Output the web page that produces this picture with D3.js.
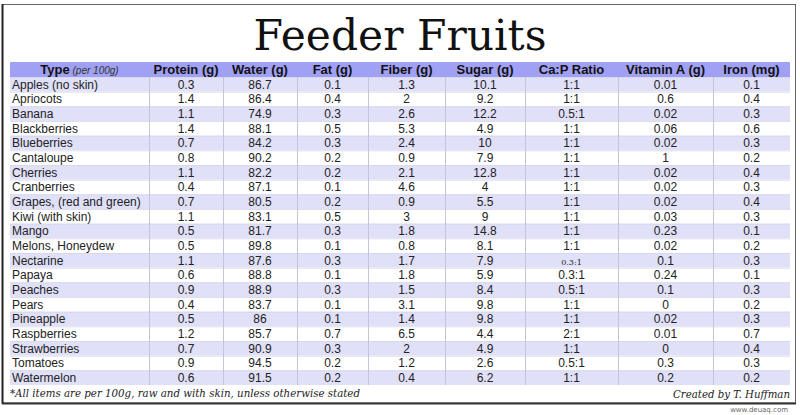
<!DOCTYPE html>
<html><head><meta charset="utf-8">
<script src="https://cdn.jsdelivr.net/npm/d3@7"></script>
<style>body{margin:0;background:#fff}svg{display:block}</style>
</head><body><div id="c"></div>
<script>
const title = "Feeder Fruits";
const headers = ["Type", "Protein (g)", "Water (g)", "Fat (g)", "Fiber (g)", "Sugar (g)", "Ca:P Ratio", "Vitamin A (g)", "Iron (mg)"];
const fruits = ["Apples (no skin)","Apriocots","Banana","Blackberries","Blueberries","Cantaloupe","Cherries","Cranberries","Grapes, (red and green)","Kiwi (with skin)","Mango","Melons, Honeydew","Nectarine","Papaya","Peaches","Pears","Pineapple","Raspberries","Strawberries","Tomatoes","Watermelon"];
const protein = [0.3,1.4,1.1,1.4,0.7,0.8,1.1,0.4,0.7,1.1,0.5,0.5,1.1,0.6,0.9,0.4,0.5,1.2,0.7,0.9,0.6];
const water = [86.7,86.4,74.9,88.1,84.2,90.2,82.2,87.1,80.5,83.1,81.7,89.8,87.6,88.8,88.9,83.7,86,85.7,90.9,94.5,91.5];
const fat = [0.1,0.4,0.3,0.5,0.3,0.2,0.2,0.1,0.2,0.5,0.3,0.1,0.3,0.1,0.3,0.1,0.1,0.7,0.3,0.2,0.2];
const fiber = [1.3,2,2.6,5.3,2.4,0.9,2.1,4.6,0.9,3,1.8,0.8,1.7,1.8,1.5,3.1,1.4,6.5,2,1.2,0.4];
const sugar = [10.1,9.2,12.2,4.9,10,7.9,12.8,4,5.5,9,14.8,8.1,7.9,5.9,8.4,9.8,9.8,4.4,4.9,2.6,6.2];
const caP = ["1:1","1:1","0.5:1","1:1","1:1","1:1","1:1","1:1","1:1","1:1","1:1","1:1","0.3:1","0.3:1","0.5:1","1:1","1:1","2:1","1:1","0.5:1","1:1"];
const vitaminA = [0.01,0.6,0.02,0.06,0.02,1,0.02,0.02,0.02,0.03,0.23,0.02,0.1,0.24,0.1,0,0.02,0.01,0,0.3,0.2];
const iron = [0.1,0.4,0.3,0.6,0.3,0.2,0.4,0.3,0.4,0.3,0.1,0.2,0.3,0.1,0.3,0.2,0.3,0.7,0.4,0.3,0.2];
const footnote = "*All items are per 100g, raw and with skin, unless otherwise stated";
const credit = "Created by T. Huffman";
const watermark = "www.deuaq.com";

const W = 800, H = 415;
const colEdges = [10,149,223,297,368,445,525,618,713,790];
const headerTop = 62, headerH = 15, rowsTop = 77, rowsBottom = 385;

const svg = d3.select("#c").append("svg").attr("width", W).attr("height", H);
svg.append("rect").attr("width", W).attr("height", H).attr("fill", "#fff");

// frame
svg.append("rect").attr("x", 2.5).attr("y", 4.5).attr("width", 793).attr("height", 398.5)
  .attr("fill", "#fff").attr("stroke", "#666").attr("stroke-width", 1);
svg.append("line").attr("x1", 2.5).attr("x2", 2.5).attr("y1", 4).attr("y2", 404).attr("stroke", "#222").attr("stroke-width", 2);
svg.append("line").attr("x1", 2).attr("x2", 796).attr("y1", 403.5).attr("y2", 403.5).attr("stroke", "#333").attr("stroke-width", 2);

// title
const t = svg.append("text").attr("x", 400).attr("y", 50).attr("text-anchor", "middle")
  .attr("font-family", "DejaVu Serif, serif").attr("font-size", 44).attr("fill", "#111").text(title);
const tw = t.node().getComputedTextLength();
t.attr("font-size", 44 * 293 / tw);

// scales
const rowIdx = d3.range(fruits.length);
const y = d3.scaleBand().domain(rowIdx).range([rowsTop, rowsBottom]);
const colIdx = d3.range(headers.length);
const x = d3.scaleOrdinal().domain(colIdx).range(colEdges.slice(0, -1));
const xEnd = d3.scaleOrdinal().domain(colIdx).range(colEdges.slice(1));

// header
svg.append("rect").attr("x", colEdges[0]).attr("y", headerTop).attr("width", colEdges[9] - colEdges[0]).attr("height", headerH)
  .attr("fill", "#a0a0f4");

// rows background
svg.selectAll("rect.row").data(rowIdx).join("rect").attr("class", "row")
  .attr("x", colEdges[0]).attr("y", i => y(i)).attr("width", colEdges[9] - colEdges[0]).attr("height", y.bandwidth())
  .attr("fill", i => i % 2 === 0 ? "#e0e0f9" : "#ffffff");

// horizontal faint lines
svg.selectAll("line.h").data(rowIdx).join("line").attr("class", "h")
  .attr("x1", colEdges[0]).attr("x2", colEdges[9]).attr("y1", i => y(i) + 0.5).attr("y2", i => y(i) + 0.5)
  .attr("stroke", "#d4d4ea").attr("stroke-width", 0.8);

// vertical lines
svg.selectAll("line.v").data(colEdges.slice(1, -1)).join("line").attr("class", "v")
  .attr("x1", d => d + 0.5).attr("x2", d => d + 0.5).attr("y1", rowsTop).attr("y2", rowsBottom)
  .attr("stroke", "#c4c4dc").attr("stroke-width", 1);

// header text
const hb = headerTop + headerH / 2 + 4.5;
const typeText = svg.append("text").attr("x", (colEdges[0] + colEdges[1]) / 2).attr("y", hb).attr("text-anchor", "middle")
  .attr("font-family", "Liberation Sans, Arial, sans-serif").attr("fill", "#111");
typeText.append("tspan").attr("font-weight", "bold").attr("font-size", 13).text(headers[0]);
typeText.append("tspan").attr("font-style", "italic").attr("font-size", 10).attr("fill", "#333").text(" (per 100g)");
svg.selectAll("text.hd").data(colIdx.slice(1)).join("text").attr("class", "hd")
  .attr("x", i => (x(i) + xEnd(i)) / 2).attr("y", hb).attr("text-anchor", "middle")
  .attr("font-family", "Liberation Sans, Arial, sans-serif").attr("font-weight", "bold").attr("font-size", 13)
  .attr("fill", "#111").text(i => headers[i]);

// body
const cols = [protein, water, fat, fiber, sugar, caP, vitaminA, iron];
const g = svg.append("g").attr("font-family", "Liberation Sans, Arial, sans-serif").attr("font-size", 12).attr("fill", "#222");
g.selectAll("text.name").data(rowIdx).join("text").attr("class", "name")
  .attr("x", colEdges[0] + 2).attr("y", i => y(i) + y.bandwidth() / 2 + 4.3).text(i => fruits[i]);
cols.forEach((arr, ci) => {
  const c = ci + 1;
  g.selectAll("text.c" + c).data(rowIdx).join("text").attr("class", "c" + c)
    .attr("x", (x(c) + xEnd(c)) / 2).attr("y", i => y(i) + y.bandwidth() / 2 + 4.3)
    .attr("text-anchor", "middle").text(i => String(arr[i]))
    .each(function(i) {
      if (c === 6 && fruits[i] === "Nectarine") d3.select(this).attr("font-family", "DejaVu Serif, serif").attr("font-size", 8);
    });
});

// footnote
svg.append("text").attr("x", 10).attr("y", 397).attr("font-family", "DejaVu Serif, serif").attr("font-style", "italic")
  .attr("font-size", 10.5).attr("fill", "#222").attr("textLength", 350).attr("lengthAdjust", "spacingAndGlyphs").text(footnote);
svg.append("text").attr("x", 790).attr("y", 398).attr("text-anchor", "end").attr("font-family", "DejaVu Serif, serif").attr("font-style", "italic")
  .attr("font-size", 11).attr("fill", "#222").attr("textLength", 117).attr("lengthAdjust", "spacingAndGlyphs").text(credit);
svg.append("text").attr("x", 788).attr("y", 412).attr("text-anchor", "end").attr("font-family", "DejaVu Sans, sans-serif")
  .attr("font-size", 7).attr("fill", "#666").text(watermark);
</script></body></html>
